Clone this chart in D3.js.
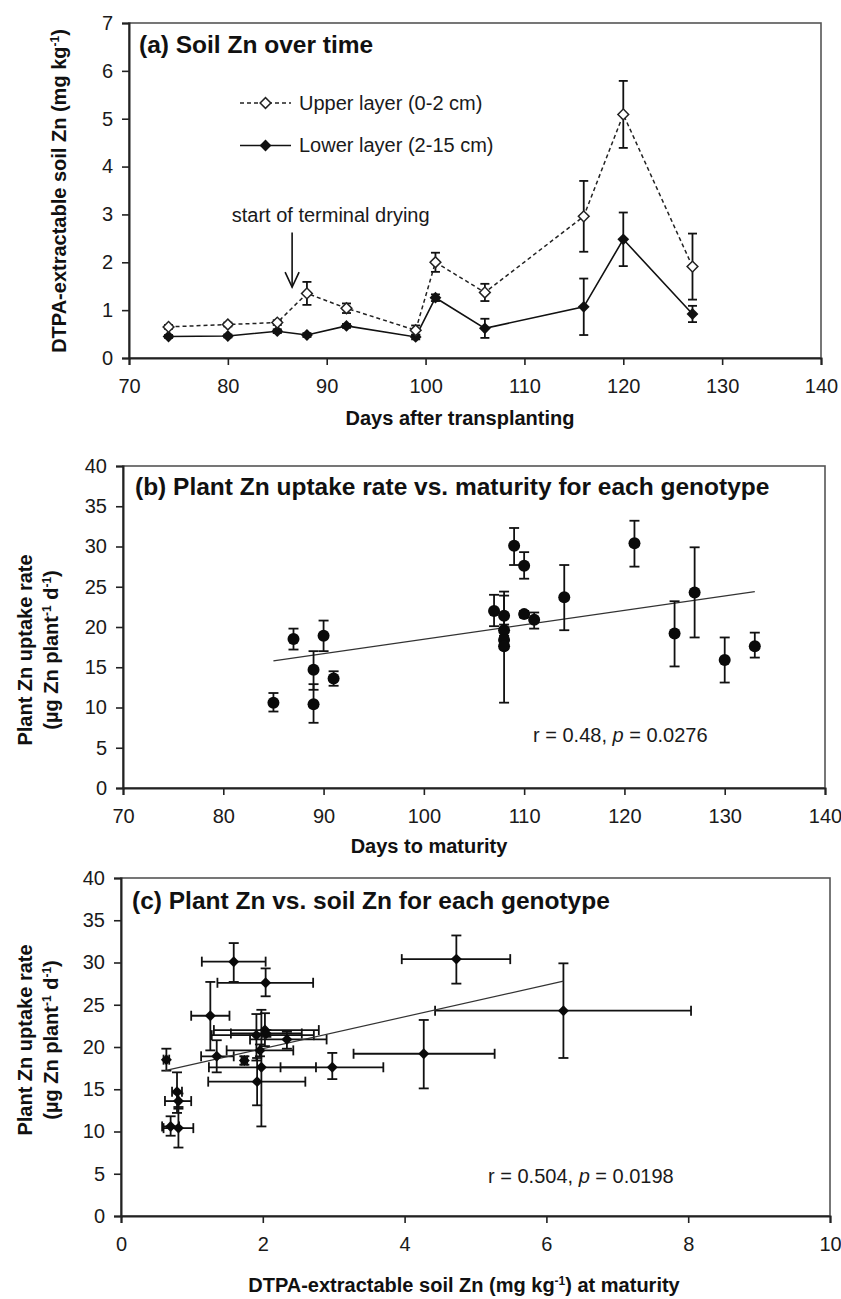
<!DOCTYPE html>
<html>
<head>
<meta charset="utf-8">
<script src="https://cdn.jsdelivr.net/npm/d3@7/dist/d3.min.js"></script>
<style>
  body { margin: 0; background: #fff; }
  svg { display: block; font-family: "Liberation Sans", Arial, sans-serif; }
  .tick-label { font-size: 20px; fill: #1a1a1a; }
  .axis-title { font-size: 20px; font-weight: bold; fill: #111; }
  .panel-title { font-size: 24.5px; font-weight: bold; fill: #111; }
  .note { font-size: 20px; fill: #1a1a1a; }
</style>
</head>
<body>
<svg width="841" height="1299"></svg>
<script>
// ---- panel (a): soil Zn over time ----
var daysA = [74, 80, 85, 88, 92, 99, 101, 106, 116, 120, 127];
var upperZn = [0.65, 0.70, 0.74, 1.35, 1.04, 0.58, 2.00, 1.37, 2.96, 5.09, 1.91];
var upperErr = [0.04, 0.04, 0.05, 0.24, 0.10, 0.10, 0.20, 0.18, 0.74, 0.70, 0.69];
var lowerZn = [0.45, 0.46, 0.56, 0.48, 0.67, 0.44, 1.26, 0.62, 1.07, 2.48, 0.92];
var lowerErr = [0.03, 0.03, 0.04, 0.04, 0.04, 0.05, 0.07, 0.20, 0.59, 0.56, 0.17];
var daysTicksA = [70, 80, 90, 100, 110, 120, 130, 140];
var znTicks = [0, 1, 2, 3, 4, 5, 6, 7];

// ---- panel (b) and (c): one value per genotype ----
var maturityDays = [85, 87, 89, 89, 90, 91, 107, 108, 108, 108, 108, 109, 110, 110, 111, 114, 121, 125, 127, 130, 133];
var uptake   = [10.6, 18.5, 14.7, 10.4, 18.9, 13.6, 22.0, 21.4, 19.6, 18.4, 17.6, 30.1, 27.6, 21.6, 20.9, 23.7, 30.4, 19.2, 24.3, 15.9, 17.6];
var uptakeLo = [9.5, 17.2, 12.2, 8.1, 17.0, 12.7, 20.1, 18.4, 18.9, 17.9, 10.6, 27.7, 26.0, 21.2, 19.8, 19.6, 27.5, 15.1, 18.7, 13.1, 16.2];
var uptakeHi = [11.8, 19.8, 17.0, 12.9, 20.8, 14.5, 24.0, 23.9, 20.3, 18.9, 24.4, 32.3, 29.3, 22.0, 21.8, 27.7, 33.2, 23.2, 29.9, 18.7, 19.3];
var soilZn = [0.70, 0.64, 0.79, 0.81, 1.35, 0.81, 2.03, 1.91, 1.96, 1.74, 1.98, 1.59, 2.04, 2.05, 2.34, 1.26, 4.73, 4.27, 6.24, 1.92, 2.98];
var soilLo = [0.58, 0.60, 0.72, 0.60, 1.13, 0.62, 1.31, 1.28, 1.49, 1.70, 1.24, 1.14, 1.36, 1.55, 1.82, 0.99, 3.96, 3.28, 4.43, 1.23, 2.25];
var soilHi = [0.82, 0.68, 0.86, 1.02, 1.59, 0.99, 2.79, 2.72, 2.43, 1.78, 2.75, 2.04, 2.71, 2.55, 2.90, 1.53, 5.49, 5.27, 8.04, 2.60, 3.70];
var daysTicksB = [70, 80, 90, 100, 110, 120, 130, 140];
var uptakeTicks = [0, 5, 10, 15, 20, 25, 30, 35, 40];
var soilTicks = [0, 2, 4, 6, 8, 10];

// regression lines (end points)
var fitDays = [85, 133];
var fitUptakeB = [15.8, 24.4];
var fitSoil = [0.62, 6.24];
var fitUptakeC = [17.2, 27.8];

var svg = d3.select('svg');
var diamond = d3.symbol().type(d3.symbolSquare);
var intFormat = d3.format('d');

// draws the frame, axes and tick labels of one panel, returns its scales
function drawFrame(box, xDomain, yDomain, xTicks, yTicks) {
    var x = d3.scaleLinear().domain(xDomain).range([box.l, box.r]);
    var y = d3.scaleLinear().domain(yDomain).range([box.b, box.t]);

    svg.append('rect')
       .attr('x', box.l).attr('y', box.t)
       .attr('width', box.r - box.l).attr('height', box.b - box.t)
       .attr('fill', 'none').attr('stroke', '#555').attr('stroke-width', 1.6);

    var xAxis = svg.append('g')
       .attr('transform', 'translate(0,' + box.b + ')')
       .call(d3.axisBottom(x).tickValues(xTicks).tickFormat(intFormat).tickSize(7).tickPadding(9));
    var yAxis = svg.append('g')
       .attr('transform', 'translate(' + box.l + ',0)')
       .call(d3.axisLeft(y).tickValues(yTicks).tickFormat(intFormat).tickSize(7).tickPadding(9));

    [xAxis, yAxis].forEach(function(g) {
        g.select('.domain').attr('stroke', '#222').attr('stroke-width', 2);
        g.selectAll('.tick line').attr('stroke', '#222').attr('stroke-width', 1.6);
        g.selectAll('.tick text')
         .attr('class', 'tick-label')
         .attr('font-family', null).attr('font-size', null).attr('fill', null);
    });
    xAxis.selectAll('.tick text').attr('dy', '0.95em');
    return {x: x, y: y};
}

// writes a label with "-1" style superscripts: parts = [[text, isSup], ...]
function richText(sel, parts) {
    var prevSup = false;
    parts.forEach(function(p) {
        var t = sel.append('tspan').text(p[0]);
        if (p[1]) t.attr('font-size', '0.6em').attr('dy', '-0.55em');
        else if (prevSup) t.attr('dy', '0.33em');
        prevSup = p[1];
    });
    return sel;
}

function errorBarV(g, x, y0, y1, cap) {
    g.append('line').attr('x1', x).attr('x2', x).attr('y1', y0).attr('y2', y1);
    g.append('line').attr('x1', x - cap).attr('x2', x + cap).attr('y1', y0).attr('y2', y0);
    g.append('line').attr('x1', x - cap).attr('x2', x + cap).attr('y1', y1).attr('y2', y1);
}
function errorBarH(g, y, x0, x1, cap) {
    g.append('line').attr('x1', x0).attr('x2', x1).attr('y1', y).attr('y2', y);
    g.append('line').attr('x1', x0).attr('x2', x0).attr('y1', y - cap).attr('y2', y + cap);
    g.append('line').attr('x1', x1).attr('x2', x1).attr('y1', y - cap).attr('y2', y + cap);
}

// ================= panel (a) =================
var boxA = {l: 129, r: 821, t: 23, b: 358};
var sA = drawFrame(boxA, [70, 140], [0, 7], daysTicksA, znTicks);

var upperPts = daysA.map(function(d, i) { return {x: d, y: upperZn[i], e: upperErr[i]}; });
var lowerPts = daysA.map(function(d, i) { return {x: d, y: lowerZn[i], e: lowerErr[i]}; });

var lineA = d3.line().x(function(d) { return sA.x(d.x); }).y(function(d) { return sA.y(d.y); });

var errA = svg.append('g').attr('stroke', '#111').attr('stroke-width', 1.8);
upperPts.concat(lowerPts).forEach(function(d) {
    errorBarV(errA, sA.x(d.x), sA.y(d.y + d.e), sA.y(d.y - d.e), 4.5);
});

svg.append('path').datum(lowerPts)
   .attr('d', lineA).attr('fill', 'none').attr('stroke', '#111').attr('stroke-width', 1.6);
svg.append('path').datum(upperPts)
   .attr('d', lineA).attr('fill', 'none').attr('stroke', '#222')
   .attr('stroke-width', 1.5).attr('stroke-dasharray', '4,3');

svg.selectAll('.lower-pt').data(lowerPts).enter().append('path')
   .attr('class', 'lower-pt')
   .attr('d', diamond.size(70))
   .attr('transform', function(d) { return 'translate(' + sA.x(d.x) + ',' + sA.y(d.y) + ') rotate(45)'; })
   .attr('fill', '#111');
svg.selectAll('.upper-pt').data(upperPts).enter().append('path')
   .attr('class', 'upper-pt')
   .attr('d', diamond.size(58))
   .attr('transform', function(d) { return 'translate(' + sA.x(d.x) + ',' + sA.y(d.y) + ') rotate(45)'; })
   .attr('fill', '#fff').attr('stroke', '#222').attr('stroke-width', 1.5);

svg.append('text').attr('class', 'panel-title')
   .attr('x', 139).attr('y', 53).text('(a) Soil Zn over time');

// legend
var legend = svg.append('g');
legend.append('line').attr('x1', 240).attr('x2', 291).attr('y1', 103).attr('y2', 103)
      .attr('stroke', '#222').attr('stroke-width', 1.5).attr('stroke-dasharray', '4,3');
legend.append('path').attr('d', diamond.size(58))
      .attr('transform', 'translate(265.5,103) rotate(45)')
      .attr('fill', '#fff').attr('stroke', '#222').attr('stroke-width', 1.5);
legend.append('text').attr('class', 'note').attr('x', 299).attr('y', 110).text('Upper layer (0-2 cm)');
legend.append('line').attr('x1', 240).attr('x2', 291).attr('y1', 145.5).attr('y2', 145.5)
      .attr('stroke', '#111').attr('stroke-width', 1.6);
legend.append('path').attr('d', diamond.size(70))
      .attr('transform', 'translate(265.5,145.5) rotate(45)').attr('fill', '#111');
legend.append('text').attr('class', 'note').attr('x', 299).attr('y', 152).text('Lower layer (2-15 cm)');

// annotation arrow
var arrowDay = 86.5, arrowFrom = 2.62, arrowTo = 1.48;
var ax = sA.x(arrowDay), ay0 = sA.y(arrowFrom), ay1 = sA.y(arrowTo);
svg.append('line').attr('x1', ax).attr('x2', ax).attr('y1', ay0).attr('y2', ay1)
   .attr('stroke', '#111').attr('stroke-width', 1.6);
svg.append('path')
   .attr('d', 'M' + (ax - 7) + ',' + (ay1 - 15) + 'L' + ax + ',' + ay1 + 'L' + (ax + 7) + ',' + (ay1 - 15))
   .attr('fill', 'none').attr('stroke', '#111').attr('stroke-width', 1.6);
svg.append('text').attr('class', 'note')
   .attr('x', sA.x(90.4)).attr('y', sA.y(2.85)).attr('text-anchor', 'middle')
   .text('start of terminal drying');

svg.append('text').attr('class', 'axis-title')
   .attr('x', 460).attr('y', 425).attr('text-anchor', 'middle')
   .text('Days after transplanting');
richText(svg.append('text').attr('class', 'axis-title')
   .attr('transform', 'translate(66,191) rotate(-90)').attr('text-anchor', 'middle'),
   [['DTPA-extractable soil Zn (mg kg', false], ['-1', true], [')', false]]);

// ================= panel (b) =================
var boxB = {l: 123, r: 825, t: 466, b: 788};
var sB = drawFrame(boxB, [70, 140], [0, 40], daysTicksB, uptakeTicks);

svg.append('path').datum(fitDays.map(function(d, i) { return [d, fitUptakeB[i]]; }))
   .attr('d', d3.line().x(function(d) { return sB.x(d[0]); }).y(function(d) { return sB.y(d[1]); }))
   .attr('stroke', '#333').attr('stroke-width', 1.2).attr('fill', 'none');

var errB = svg.append('g').attr('stroke', '#111').attr('stroke-width', 1.8);
maturityDays.forEach(function(d, i) {
    errorBarV(errB, sB.x(d), sB.y(uptakeHi[i]), sB.y(uptakeLo[i]), 5);
});
svg.selectAll('.pt-b').data(maturityDays).enter().append('circle')
   .attr('class', 'pt-b')
   .attr('cx', function(d) { return sB.x(d); })
   .attr('cy', function(d, i) { return sB.y(uptake[i]); })
   .attr('r', 6).attr('fill', '#0a0a0a');

svg.append('text').attr('class', 'panel-title')
   .attr('x', 135).attr('y', 495).text('(b) Plant Zn uptake rate vs. maturity for each genotype');
var statB = svg.append('text').attr('class', 'note').attr('x', 533).attr('y', 742);
statB.append('tspan').text('r = 0.48, ');
statB.append('tspan').attr('font-style', 'italic').text('p');
statB.append('tspan').text(' = 0.0276');

svg.append('text').attr('class', 'axis-title')
   .attr('x', 429).attr('y', 853).attr('text-anchor', 'middle')
   .text('Days to maturity');

function uptakeLabel(cx, cy) {
    svg.append('text').attr('class', 'axis-title')
       .attr('transform', 'translate(' + (cx - 13) + ',' + cy + ') rotate(-90)').attr('text-anchor', 'middle')
       .text('Plant Zn uptake rate');
    richText(svg.append('text').attr('class', 'axis-title')
       .attr('transform', 'translate(' + (cx + 13) + ',' + cy + ') rotate(-90)').attr('text-anchor', 'middle'),
       [['(µg Zn plant', false], ['-1', true], [' d', false], ['-1', true], [')', false]]);
}
uptakeLabel(45, 650);

// ================= panel (c) =================
var boxC = {l: 121, r: 830, t: 878, b: 1216};
var sC = drawFrame(boxC, [0, 10], [0, 40], soilTicks, uptakeTicks);

var errC = svg.append('g').attr('stroke', '#111').attr('stroke-width', 1.8);
soilZn.forEach(function(d, i) {
    errorBarV(errC, sC.x(d), sC.y(uptakeHi[i]), sC.y(uptakeLo[i]), 5);
    errorBarH(errC, sC.y(uptake[i]), sC.x(soilLo[i]), sC.x(soilHi[i]), 5);
});

svg.append('path').datum(fitSoil.map(function(d, i) { return [d, fitUptakeC[i]]; }))
   .attr('d', d3.line().x(function(d) { return sC.x(d[0]); }).y(function(d) { return sC.y(d[1]); }))
   .attr('stroke', '#333').attr('stroke-width', 1.2).attr('fill', 'none');

svg.selectAll('.pt-c').data(soilZn).enter().append('path')
   .attr('class', 'pt-c')
   .attr('d', diamond.size(60))
   .attr('transform', function(d, i) { return 'translate(' + sC.x(d) + ',' + sC.y(uptake[i]) + ') rotate(45)'; })
   .attr('fill', '#0a0a0a');

svg.append('text').attr('class', 'panel-title')
   .attr('x', 132).attr('y', 909).text('(c) Plant Zn vs. soil Zn for each genotype');
var statC = svg.append('text').attr('class', 'note').attr('x', 488).attr('y', 1183);
statC.append('tspan').text('r = 0.504, ');
statC.append('tspan').attr('font-style', 'italic').text('p');
statC.append('tspan').text(' = 0.0198');

richText(svg.append('text').attr('class', 'axis-title')
   .attr('x', 464).attr('y', 1292).attr('text-anchor', 'middle'),
   [['DTPA-extractable soil Zn (mg kg', false], ['-1', true], [') at maturity', false]]);
uptakeLabel(45, 1040);
</script>
</body>
</html>
